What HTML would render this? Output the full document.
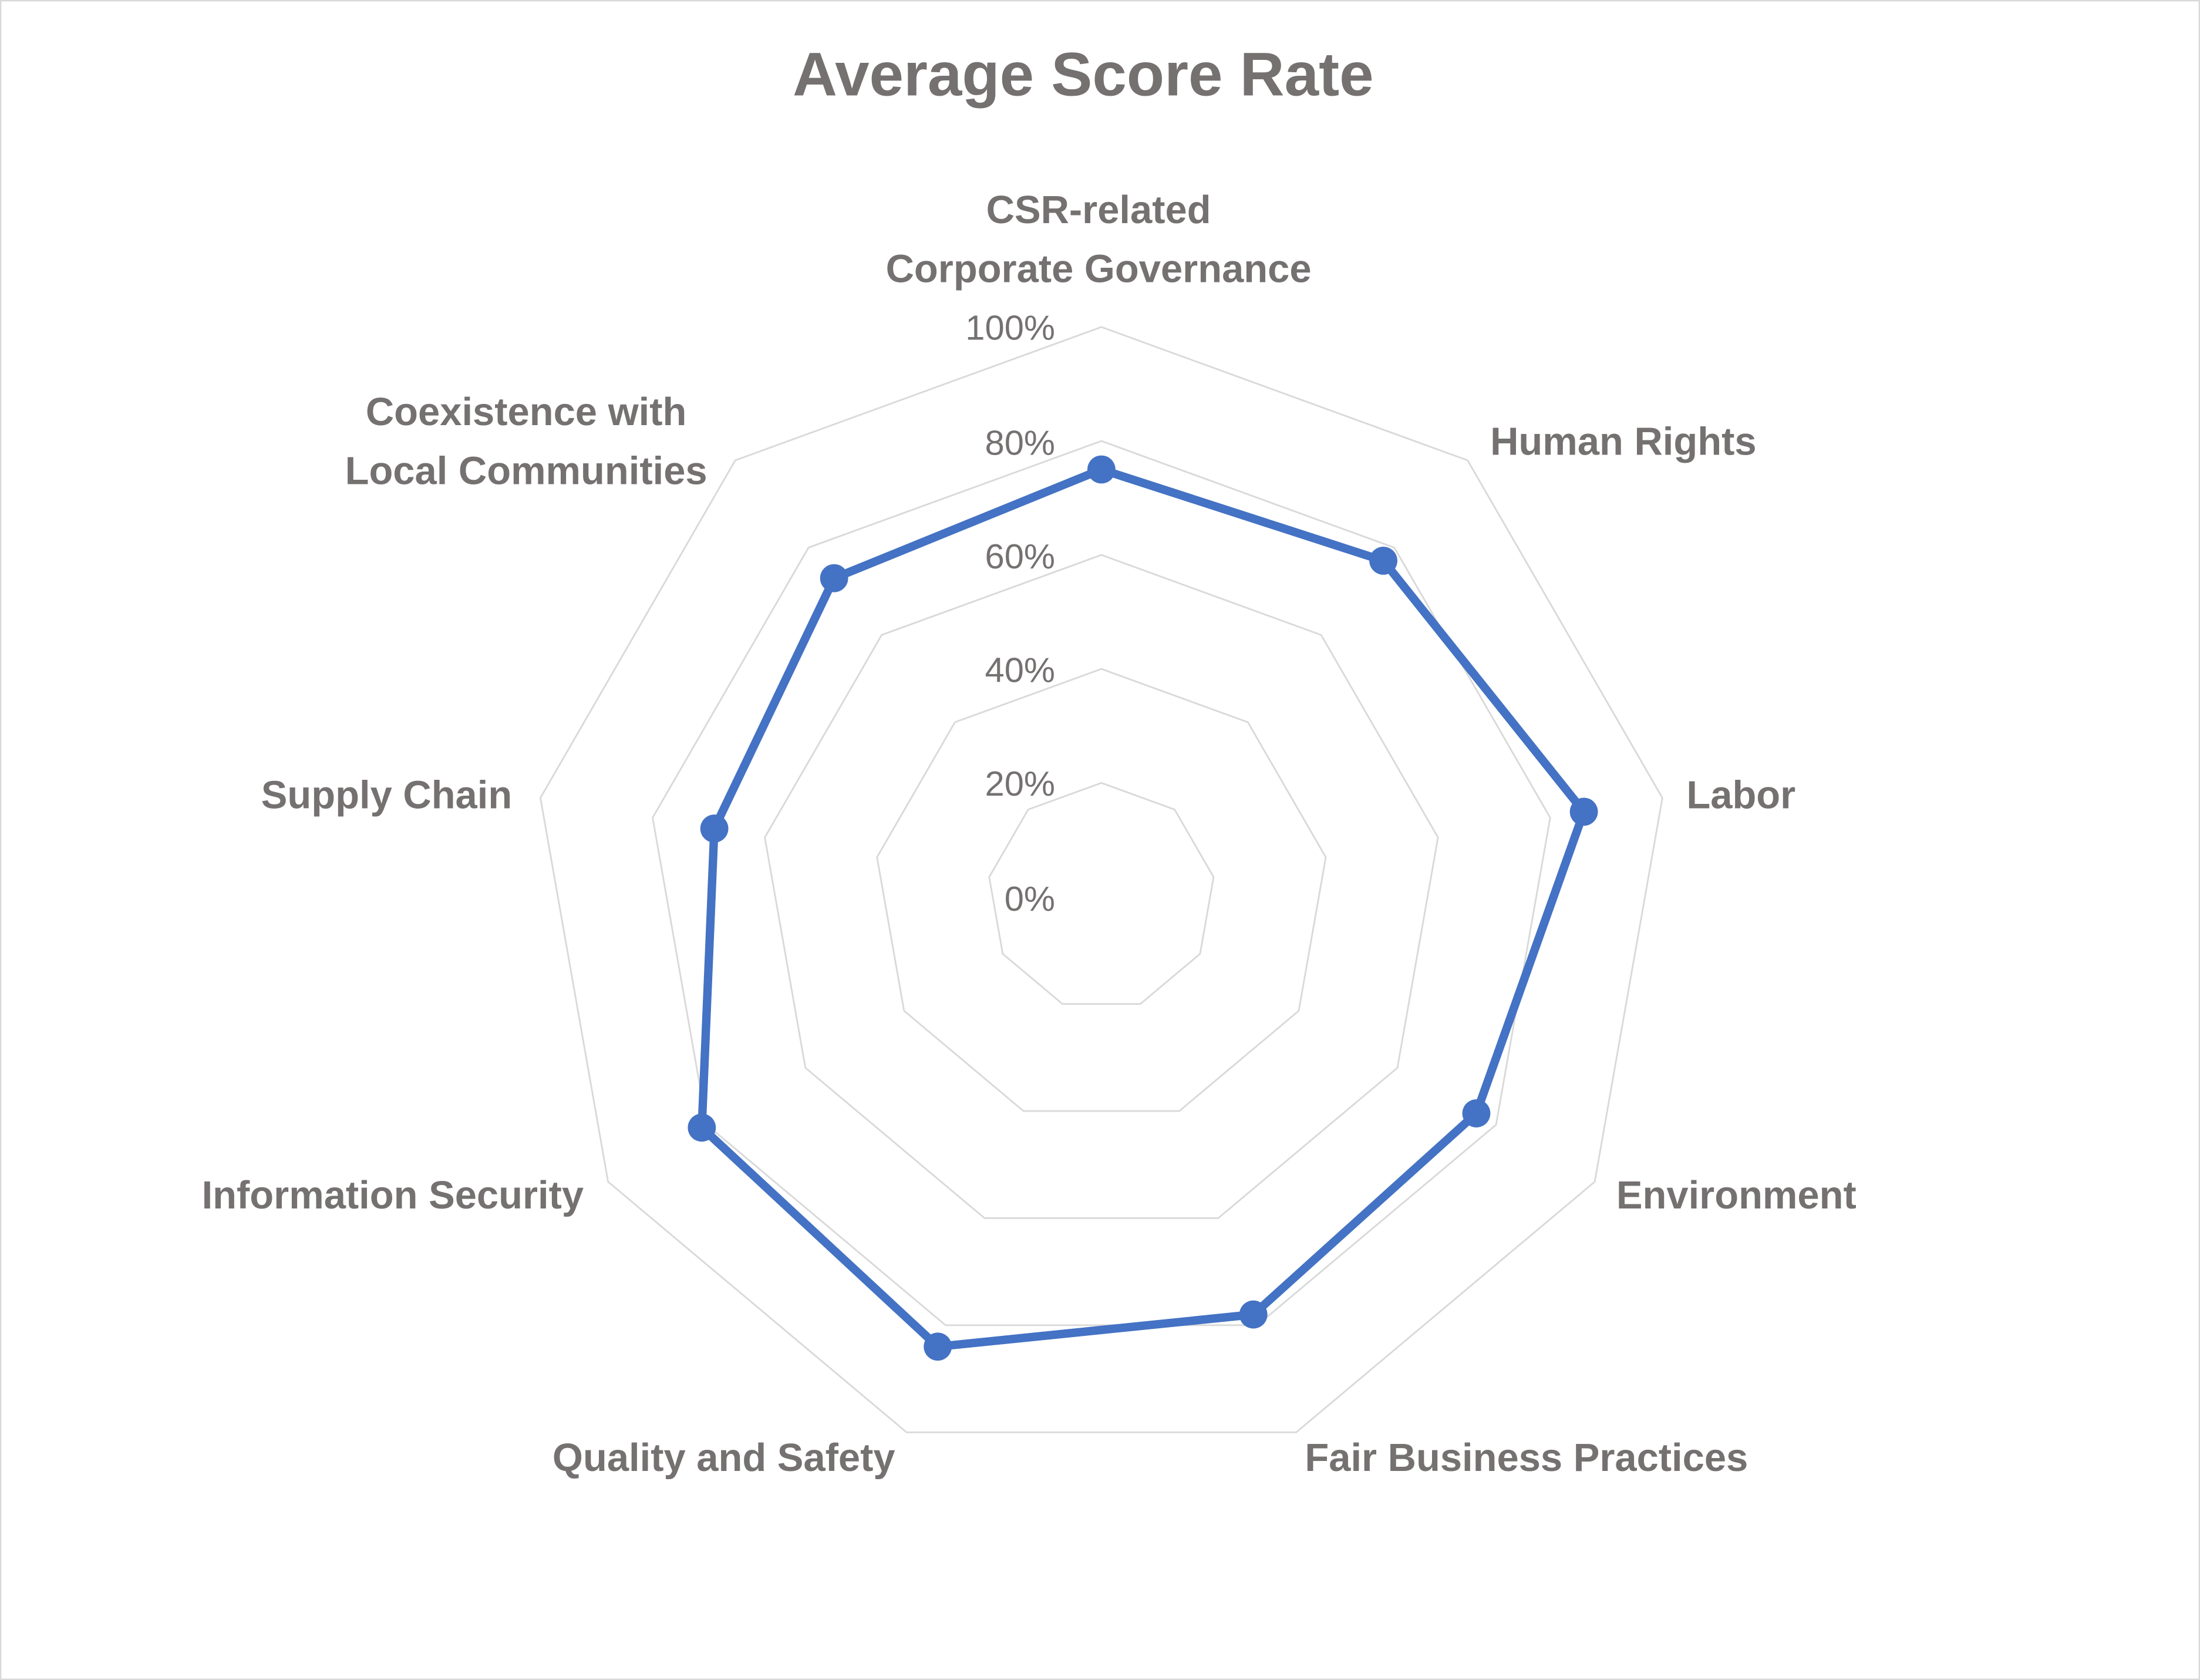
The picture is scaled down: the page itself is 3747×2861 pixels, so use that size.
<!DOCTYPE html>
<html><head><meta charset="utf-8"><style>
html,body{margin:0;padding:0;background:#fff;}
svg{display:block;}
text{font-family:"Liberation Sans",sans-serif;}
</style></head><body>
<svg width="3747" height="2861" viewBox="0 0 1568 1197" preserveAspectRatio="none" xmlns="http://www.w3.org/2000/svg">
<rect x="0.5" y="0.5" width="1567" height="1196" fill="#fff" stroke="#d9d9d9" stroke-width="1"/>
<g id="grid" fill="none" stroke="#d9d9d9" stroke-width="1.2"></g>
<text x="772" y="68" text-anchor="middle" font-size="44" font-weight="bold" fill="#757171">Average Score Rate</text>
<g font-size="28" font-weight="bold" fill="#757171">
<text x="783" y="159" text-anchor="middle">CSR-related</text>
<text x="783" y="201" text-anchor="middle">Corporate Governance</text>
<text x="1157" y="324" text-anchor="middle">Human Rights</text>
<text x="1202" y="576">Labor</text>
<text x="1152" y="861">Environment</text>
<text x="930" y="1048">Fair Business Practices</text>
<text x="638" y="1048" text-anchor="end">Quality and Safety</text>
<text x="416" y="861" text-anchor="end">Information Security</text>
<text x="365" y="576" text-anchor="end">Supply Chain</text>
<text x="375" y="303" text-anchor="middle">Coexistence with</text>
<text x="375" y="345" text-anchor="middle">Local Communities</text>
</g>
<g font-size="25" fill="#757171" text-anchor="end">
<text x="752" y="242">100%</text>
<text x="752" y="324">80%</text>
<text x="752" y="405">60%</text>
<text x="752" y="486">40%</text>
<text x="752" y="567">20%</text>
<text x="752" y="649">0%</text>
</g>
<g id="series"></g>
</svg>
<script>
var cx=785,cy=639,R=406,n=9;
function pt(i,f){var a=i*2*Math.PI/n;return [cx+R*f*Math.sin(a),cy-R*f*Math.cos(a)];}
var g=document.getElementById('grid'),ns="http://www.w3.org/2000/svg";
for(var k=1;k<=5;k++){var p=[];for(var i=0;i<n;i++)p.push(pt(i,k/5).join(','));
var e=document.createElementNS(ns,'polygon');e.setAttribute('points',p.join(' '));g.appendChild(e);}
var v=[0.75,0.77,0.86,0.76,0.78,0.84,0.81,0.69,0.73];
var s=document.getElementById('series'),pp=[];
for(var i=0;i<n;i++)pp.push(pt(i,v[i]).join(','));
var pl=document.createElementNS(ns,'polygon');pl.setAttribute('points',pp.join(' '));
pl.setAttribute('fill','none');pl.setAttribute('stroke','#4472C4');pl.setAttribute('stroke-width','6');pl.setAttribute('stroke-linejoin','round');s.appendChild(pl);
for(var i=0;i<n;i++){var q=pt(i,v[i]);var c=document.createElementNS(ns,'circle');c.setAttribute('cx',q[0]);c.setAttribute('cy',q[1]);c.setAttribute('r',10);c.setAttribute('fill','#4472C4');s.appendChild(c);}
</script>
</body></html>
